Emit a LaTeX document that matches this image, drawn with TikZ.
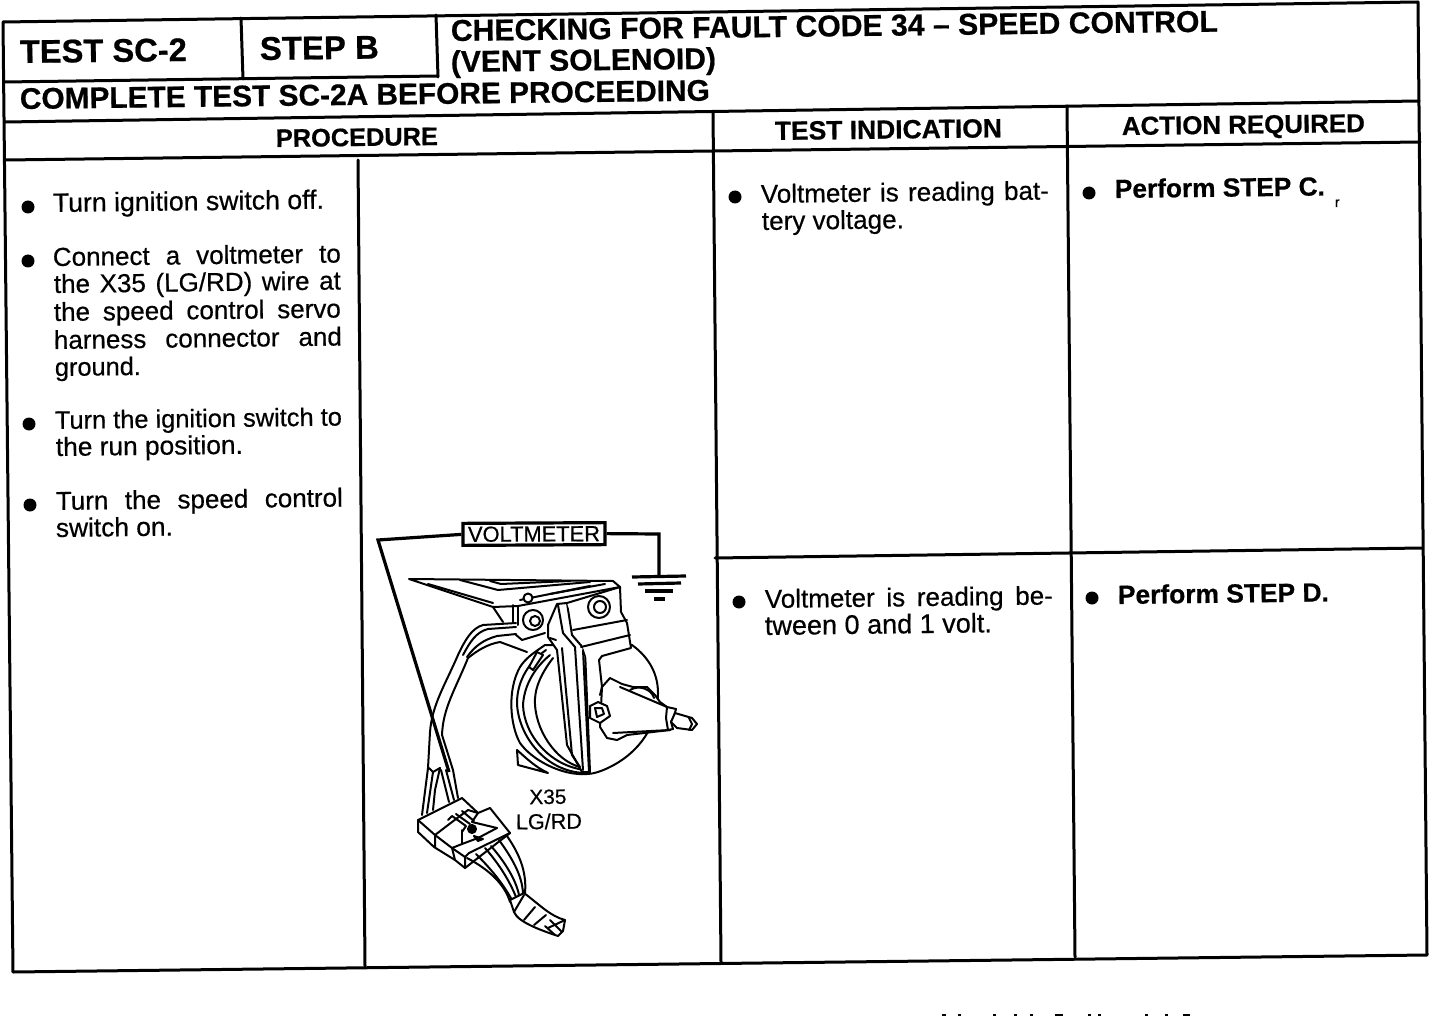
\documentclass[tikz,border=0pt]{standalone}
\usepackage{fontspec}
\setmainfont{Liberation Sans}
\newfontfamily\bodyf[FakeBold=0.5]{Liberation Sans}
\newfontfamily\headf[FakeBold=0.6,BoldFont={Liberation Sans Bold}]{Liberation Sans Bold}
\tikzset{
 rule/.style={line width=3pt,line cap=round,line join=round},
 txt/.style={anchor=base west,inner sep=0pt,outer sep=0pt,rotate=0.7},
 ctr/.style={anchor=base,inner sep=0pt,outer sep=0pt,rotate=0.7},
 art/.style={line width=2pt,line cap=round,line join=round},
 artf/.style={art,fill=white},
 probe/.style={line width=3.2pt,line join=miter},
 dot/.style={circle,fill=black,minimum size=13pt,inner sep=0pt},
}
\newcommand{\hd}[5]{\node[txt] (#1) at (#2,#3) {\resizebox{#4pt}{!}{\headf #5}};}
\newcommand{\jl}[5]{\node[txt] (#1) at (#2,#3) {\makebox[#4pt][s]{\fontsize{26}{26}\bodyf #5}};}
\newcommand{\pl}[5]{\node[txt] (#1) at (#2,#3) {\resizebox{#4pt}{!}{\bodyf #5}};}
\begin{document}
\begin{tikzpicture}[x=1pt,y=-1pt]
\useasboundingbox (0,0) rectangle (1440,1016);
\fill[white] (0,0) rectangle (1440,1016);
% frame and table rules
\draw[rule] (3,22) -- (1418,2) -- (1427,955) -- (13,972) -- cycle;
\draw[rule] (4,82) -- (438,76);
\draw[rule] (241,18) -- (243,79);
\draw[rule] (436,15) -- (438,77);
\draw[rule] (5,122) -- (1419,101);
\draw[rule] (6,160) -- (1420,142);
\draw[rule] (713,112) -- (721,962);
\draw[rule] (1067,106) -- (1075,957);
\draw[rule] (358,160) -- (365,966);
\draw[rule] (715,558) -- (1422,548);
% header text
\hd{tsc}{20}{63}{167}{TEST SC-2}
\hd{stb}{260}{60}{119}{STEP B}
\hd{chk}{451}{41}{767}{CHECKING FOR FAULT CODE 34 – SPEED CONTROL}
\hd{vnt}{451}{72}{265}{(VENT SOLENOID)}
\hd{cpl}{20}{109}{690}{COMPLETE TEST SC-2A BEFORE PROCEEDING}
\hd{prc}{276}{147}{162}{PROCEDURE}
\hd{tin}{775}{140}{227}{TEST INDICATION}
\hd{acr}{1122}{135}{243}{ACTION REQUIRED}
% bullets
\node[dot] (b1) at (28,207) {};
\node[dot] (b2) at (28,261) {};
\node[dot] (b3) at (29,424) {};
\node[dot] (b4) at (30,505) {};
\node[dot] (b5) at (735,197) {};
\node[dot] (b6) at (1089,193) {};
\node[dot] (b7) at (739,602) {};
\node[dot] (b8) at (1092,598) {};
% procedure text
\pl{p1}{53}{212}{271}{Turn ignition switch off.}
\jl{p2}{53}{266}{288}{Connect a voltmeter to}
\jl{p3}{54}{293}{287}{the X35 (LG/RD) wire at}
\jl{p4}{54}{321}{287}{the speed control servo}
\jl{p5}{54}{349}{288}{harness connector and}
\pl{p6}{55}{376}{86}{ground.}
\pl{p7}{55}{429}{287}{Turn the ignition switch to}
\pl{p8}{56}{456}{187}{the run position.}
\jl{p9}{56}{510}{287}{Turn the speed control}
\pl{p10}{56}{537}{117}{switch on.}
% indications
\jl{i1}{761}{203}{288}{Voltmeter is reading bat-}
\pl{i2}{762}{230}{142}{tery voltage.}
\jl{i3}{765}{608}{288}{Voltmeter is reading be-}
\pl{i4}{765}{635}{227}{tween 0 and 1 volt.}
% actions
\hd{a1}{1115}{198}{210}{Perform STEP C.}
\node[txt,font=\fontsize{14}{14}\bodyf] (a1r) at (1335,207) {r};
\hd{a2}{1118}{604}{211}{Perform STEP D.}
% voltmeter circuit
\node[draw,line width=3.2pt,inner sep=0pt,minimum width=142pt,minimum height=22pt,fill=white,rotate=0.3] (vm) at (534,534) {\resizebox{132pt}{!}{\bodyf VOLTMETER}};
\coordinate (pa) at (378,540);
\coordinate (pb) at (449,772);
\coordinate (gnd) at (659,576);
% motor body
\draw[artf] (632,645) .. controls (650,658) and (658,675) .. (658,693) .. controls (658,725) and (640,752) .. (610,767) .. controls (600,772) and (592,774) .. (587,774) .. controls (562,776) and (532,760) .. (520,743) .. controls (510,725) and (507,690) .. (520,667) .. controls (526,658) and (532,654) .. (545,645) -- cycle;
\draw[artf] (517,750) -- (518,765) -- (548,773) .. controls (535,767) and (525,757) .. (517,750) -- cycle;
\draw[art] (546,650) .. controls (525,665) and (517,685) .. (517,703) .. controls (518,735) and (545,772) .. (585,773);
\draw[art] (550,655) .. controls (532,670) and (524,688) .. (523,705) .. controls (524,735) and (550,766) .. (585,770);
\draw[art] (553,658) .. controls (540,675) and (534,690) .. (535,705) .. controls (537,735) and (560,765) .. (585,768);
\draw[artf] (533,670) -- (543,655) -- (537,652) -- (529,667) -- cycle;
% strap
\draw[artf] (548,625) -- (548,637) -- (557,650) -- (567,745) -- (582,772) -- (590,772) -- (585,650) -- (572,635) -- (567,603) -- (557,604) -- cycle;
\draw[art] (558,605) -- (563,633) -- (575,647) -- (583,770);
\draw[art] (562,648) -- (572,755) -- (580,767);
\draw[art] (550,638) -- (556,640);
% block
\draw[artf] (567,603) -- (620,587) -- (621,612) -- (627,623) -- (631,648) -- (602,656) -- (599,660) -- (602,687) -- (600,695);
\draw[art] (573,630) -- (627,620);
\draw[art] (581,647) -- (630,635);
\draw[art] (583,650) -- (589,772);
% solenoid collar and cone
\draw[artf] (602,687) -- (610,678) -- (622,684) -- (633,687) -- (647,687) -- (655,695) -- (660,702) -- (667,707) -- (670,730) -- (627,735) -- (617,740) -- (607,738) -- (600,727) -- cycle;
\fill[white] (603,690) -- (615,684) -- (640,710) -- (612,731) -- (605,728) -- cycle;
\draw[art] (620,687) -- (667,707);
\draw[art] (613,733) -- (670,730);
\draw[art] (630,690) .. controls (640,684) and (652,690) .. (654,698);
\draw[artf] (667,707) -- (676,709) -- (674,716) -- (671,722) -- (673,729) -- (668,730) -- (666,718) -- cycle;
\draw[artf] (675,713) -- (692,718) -- (697,724) -- (692,730) -- (677,728) -- (671,722) -- cycle;
\draw[art] (689,718) -- (692,724) -- (689,730);
% plate
\draw[artf] (409,579) -- (493,607) -- (518,606) -- (620,587) -- (613,581) -- cycle;
\draw[art] (460,580) -- (498,590) -- (590,582);
\draw[art] (428,584) -- (493,603);
\draw[art] (490,581) -- (501,584) -- (570,581);
\draw[art] (520,600) -- (590,586);
\draw[art] (550,594) -- (605,584);
\draw[art] (493,607) -- (503,622);
\draw[art] (513,605) -- (513,623);
\draw[art] (518,607) -- (518,625);
% bolts
\draw[artf] (533,620) circle (10pt);
\draw[art] (535,621) circle (5pt);
\draw[artf] (528,598) circle (4.5pt);
\draw[artf] (599,607) circle (11pt);
\draw[art] (600,607) circle (6pt);
\draw[artf] (590,706) -- (598,702) -- (607,706) -- (610,716) -- (600,723) -- (590,718) -- cycle;
\draw[art] (595,708) -- (602,708) -- (604,714) -- (597,717) -- cycle;
% wire harness
\draw[art] (516,623) -- (483,625) .. controls (472,628) and (465,640) .. (458,655);
\draw[art] (516,627) -- (488,629) .. controls (476,632) and (470,642) .. (463,655);
\draw[art] (516,634) -- (497,636) .. controls (483,640) and (475,646) .. (467,657);
\draw[art] (527,652) -- (500,642) .. controls (488,644) and (478,650) .. (468,658);
\draw[art] (515,634) -- (522,640) -- (545,633);
\draw[art] (458,655) .. controls (445,685) and (432,705) .. (430,732) -- (428,768);
\draw[art] (468,658) .. controls (455,690) and (443,708) .. (442,735) -- (453,770);
\draw[art] (429,768) -- (433,772) -- (440,768);
\draw[art] (428,768) -- (422,815);
\draw[art] (433,772) -- (427,813);
\draw[art] (440,768) -- (435,790) -- (433,810);
\draw[art] (441,770) -- (449,802);
\draw[art] (446,770) -- (454,800);
\draw[art] (453,770) -- (458,798);
% connector
\draw[artf] (418,820) -- (462,798) -- (478,813) -- (490,808) -- (510,833) -- (465,868) -- (455,860) -- (434,847) -- (418,832) -- cycle;
\draw[art] (418,820) -- (435,835) -- (435,847);
\draw[art] (435,835) -- (452,822) -- (468,810) -- (478,813);
\draw[art] (435,835) -- (452,848) -- (455,860);
\draw[art] (452,848) -- (465,857) -- (465,868);
\draw[art] (452,848) -- (462,844) -- (478,838) -- (497,828);
\draw[art] (465,857) -- (469,853) -- (510,833);
\draw[art] (448,820) -- (452,816) -- (466,826) -- (462,832);
\draw[art] (456,814) -- (470,824);
\draw[art] (462,811) -- (474,821);
\draw[art] (478,813) -- (472,822) -- (497,828);
\draw[art] (462,830) -- (462,844);
\draw[art,fill=black] (472,829) circle (4pt);
\draw[art,fill=black] (474,836) -- (483,839) -- (478,841) -- cycle;
% loom
\draw[art] (467,858) .. controls (490,870) and (505,885) .. (510,902);
\draw[art] (476,854) .. controls (490,868) and (502,882) .. (512,900);
\draw[art] (485,848) .. controls (500,865) and (510,882) .. (516,897);
\draw[art] (491,846) .. controls (505,862) and (516,880) .. (519,895);
\draw[art] (499,840) .. controls (512,858) and (522,875) .. (523,893);
\draw[art] (507,836) .. controls (518,852) and (527,870) .. (525,893);
\draw[artf] (510,900) -- (524,893) .. controls (540,905) and (550,916) .. (565,920) -- (563,931) -- (558,936) .. controls (540,930) and (518,922) .. (514,912) -- cycle;
\draw[art] (514,912) -- (524,895);
\draw[art] (524,920) -- (535,907);
\draw[art] (534,925) -- (546,915);
\draw[art] (545,926) -- (555,935);
\draw[art] (550,920) -- (562,932);
\draw[art] (548,928) -- (565,920);
% probe wires and ground
\draw[probe] (vm.west) -- (pa) -- (pb);
\draw[probe] (vm.east) -- (659,534) -- (gnd);
\draw[probe] (632,577) -- (686,576);
\draw[probe] (638,584) -- (681,583);
\draw[probe] (645,591) -- (673,591);
\draw[probe] (654,599) -- (665,599);
% labels
\node[ctr] (x35) at (548,804) {\resizebox{37pt}{!}{\bodyf X35}};
\node[ctr] (lgrd) at (549,829) {\resizebox{66pt}{!}{\bodyf LG/RD}};
% cut-off marks at the bottom edge
\foreach \x/\w in {942/4,958/3,993/3,1014/3,1030/3,1055/8,1088/3,1098/3,1145/3,1165/3,1183/7}
  \fill (\x,1014) rectangle ++(\w,2);
\end{tikzpicture}
\end{document}
